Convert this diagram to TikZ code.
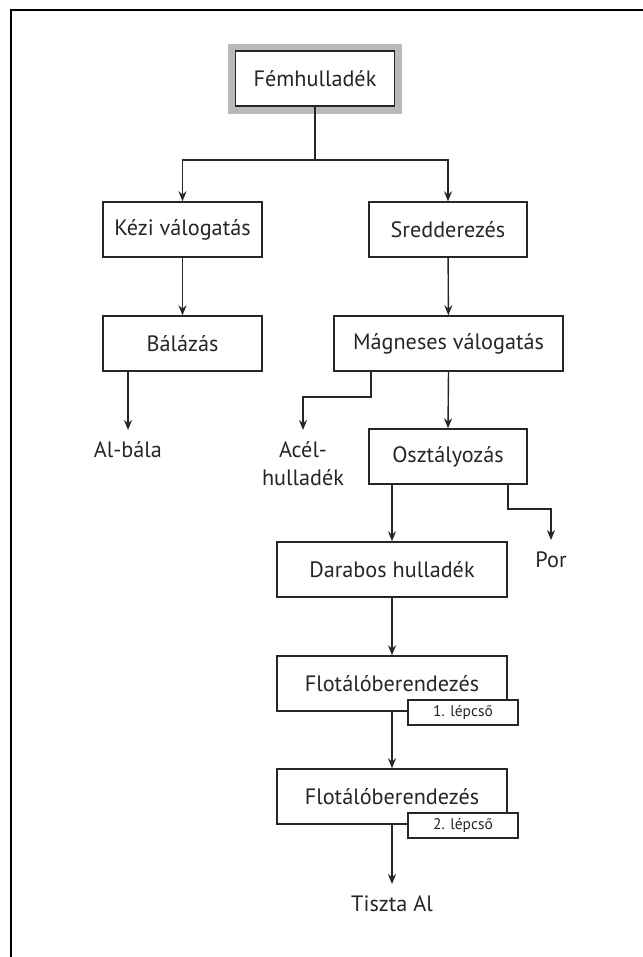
\documentclass[tikz,border=0pt]{standalone}
\usepackage{fontspec}
\setmainfont{PT Sans}
\usetikzlibrary{arrows.meta,calc}
\begin{document}
\begin{tikzpicture}[x=1bp,y=-1bp,color=black!85,line width=1.4bp,
  mainfont/.style={font=\fontsize{22.3}{28}\selectfont},
  box/.style={draw,fill=white,minimum width=#1,minimum height=55bp,inner sep=0pt,mainfont},
  tagbox/.style={draw,fill=white,minimum width=110bp,minimum height=25bp,inner sep=0pt,font=\fontsize{15.5}{18}\selectfont},
  lbl/.style={inner sep=9bp,text height=18bp,mainfont},
  arr/.style={-{Stealth[length=10bp,width=8bp]}}]
\useasboundingbox (0,0) rectangle (643,957);
\draw[line width=2bp,black] (10.5,957) -- (10.5,9.5) -- (643,9.5);
% nodes
\node[box=159bp,preaction={draw=gray!55,line width=15bp}] (fem) at (315,78.5) {Fémhulladék};
\node[box=159bp] (kezi) at (182.5,229.5) {Kézi válogatás};
\node[box=158bp] (sred) at (448,229.5) {Sredderezés};
\node[box=159bp] (bal) at (182.5,343.5) {Bálázás};
\node[box=229bp] (mag) at (448.5,343.5) {Mágneses válogatás};
\node[box=158bp] (oszt) at (448,456.5) {Osztályozás};
\node[box=230bp] (dar) at (392,569.5) {Darabos hulladék};
\node[box=230bp] (flota) at (392,683.5) {Flotálóberendezés};
\node[tagbox] (lepa) at (463,712.5) {1. lépcső};
\node[box=230bp] (flotb) at (392,796.5) {Flotálóberendezés};
\node[tagbox] (lepb) at (463,825.5) {2. lépcső};
\node[lbl,anchor=north] (albala) at (128,430) {Al-bála};
\node[lbl,anchor=north] (acel) at (303,430) {\begin{tabular}[t]{@{}c@{}}Acél-\\hulladék\end{tabular}};
\node[lbl,anchor=north] (por) at (551,540) {Por};
\node[lbl,anchor=north] (tiszta) at (392,884) {Tiszta Al};
% coordinates
\coordinate (split) at (315,160);
\coordinate (magk) at (371,397);
\coordinate (osztk) at (508,509);
% connectors
\draw (fem.south) -- (split);
\draw[arr] (split) -| (kezi.north);
\draw[arr] (split) -| (sred.north);
\draw[arr] (kezi) -- (bal);
\draw[arr] (sred) -- (mag);
\draw[arr] (bal.south -| albala.north) -- (albala.north);
\draw[arr] (mag.south -| magk) -- (magk) -| (acel.north);
\draw[arr] (mag.south) -- (oszt.north);
\draw[arr] (oszt.south -| osztk) -- (osztk) -| (por.north);
\draw[arr] (oszt.south -| dar.north) -- (dar.north);
\draw[arr] (dar) -- (flota);
\draw[arr] (flota) -- (flotb);
\draw[arr] (flotb.south) -- (tiszta.north);
\end{tikzpicture}
\end{document}
